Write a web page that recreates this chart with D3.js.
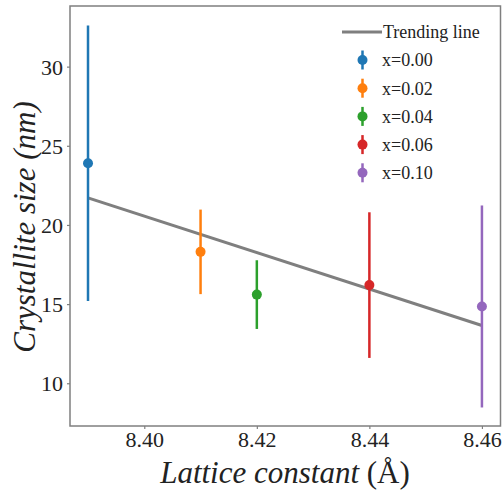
<!DOCTYPE html>
<html><head><meta charset="utf-8">
<script src="https://cdn.jsdelivr.net/npm/d3@7"></script>
<style>body{margin:0;background:#fff}svg{display:block}text{font-family:'Liberation Serif','DejaVu Serif',serif;fill:#222}</style>
</head><body><svg id="c" width="502" height="491"></svg>
<script>
const labels = ["x=0.00","x=0.02","x=0.04","x=0.06","x=0.10"];
const latticeX = [8.39, 8.41, 8.42, 8.44, 8.46];
const sizeY = [23.9, 18.3, 15.6, 16.2, 14.85];
const sizeErr = [8.7, 2.67, 2.17, 4.6, 6.38];
const colors = ["#1f77b4","#ff7f0e","#2ca02c","#d62728","#9467bd"];
const trendX = [8.39, 8.46];
const trendY = [21.71, 13.65];
const xTicks = [8.40, 8.42, 8.44, 8.46];
const yTicks = [10, 15, 20, 25, 30];

const svg = d3.select("#c");
const L=70, R=500.5, T=6, B=426;
const x = d3.scaleLinear().domain([8.3868, 8.4633]).range([L, R]);
const y = d3.scaleLinear().domain([7.30, 33.83]).range([B, T]);

svg.append("path").datum(trendX.map((v,i)=>[v,trendY[i]]))
  .attr("d", d3.line().x(d=>x(d[0])).y(d=>y(d[1])))
  .attr("stroke","#7f7f7f").attr("stroke-width",3).attr("fill","none");

latticeX.forEach((v,i)=>{
  const g = svg.append("g");
  g.append("line").attr("x1",x(v)).attr("x2",x(v))
    .attr("y1",y(sizeY[i]-sizeErr[i])).attr("y2",y(sizeY[i]+sizeErr[i]))
    .attr("stroke",colors[i]).attr("stroke-width",2.5);
  g.append("circle").attr("cx",x(v)).attr("cy",y(sizeY[i])).attr("r",5).attr("fill",colors[i]);
});

const xa = svg.append("g").attr("transform",`translate(0,${B})`)
  .call(d3.axisBottom(x).tickValues(xTicks).tickFormat(d3.format(".2f")).tickSize(3).tickSizeOuter(0));
const ya = svg.append("g").attr("transform",`translate(${L},0)`)
  .call(d3.axisLeft(y).tickValues(yTicks).tickFormat(d3.format("d")).tickSize(3).tickSizeOuter(0));
[xa,ya].forEach(a=>{
  a.select(".domain").remove();
  a.selectAll(".tick line").attr("stroke","#7f7f7f").attr("stroke-width",1.2);
  a.selectAll(".tick text").attr("font-size",22).attr("font-family",null).attr("fill","#222");
});
xa.selectAll(".tick text").attr("dy","0").attr("y",16).attr("dominant-baseline","middle");
ya.selectAll(".tick text").attr("x",-7).attr("dy","0.35em");

svg.append("rect").attr("x",L).attr("y",T).attr("width",R-L).attr("height",B-T)
  .attr("fill","none").attr("stroke","#7f7f7f").attr("stroke-width",1.5);

const xl = svg.append("text").attr("x",285).attr("y",483).attr("text-anchor","middle").attr("font-size",31);
xl.append("tspan").attr("font-style","italic").text("Lattice constant ");
xl.append("tspan").text("(Å)");
const yl = svg.append("text").attr("transform","translate(35,227) rotate(-90)").attr("text-anchor","middle").attr("font-size",31);
yl.append("tspan").attr("font-style","italic").text("Crystallite size ");
yl.append("tspan").attr("font-style","italic").text("(nm)");

const lg = svg.append("g");
lg.append("line").attr("x1",342).attr("x2",382).attr("y1",32).attr("y2",32).attr("stroke","#7f7f7f").attr("stroke-width",3);
lg.append("text").attr("x",383).attr("y",32).attr("dy","0.35em").attr("font-size",18).text("Trending line");
labels.forEach((t,i)=>{
  const cy = 60 + i*28.2;
  lg.append("line").attr("x1",362.5).attr("x2",362.5).attr("y1",cy-9.5).attr("y2",cy+9.5).attr("stroke",colors[i]).attr("stroke-width",2.5);
  lg.append("circle").attr("cx",362.5).attr("cy",cy).attr("r",5).attr("fill",colors[i]);
  lg.append("text").attr("x",382).attr("y",cy).attr("dy","0.35em").attr("font-size",18).text(t);
});
</script></body></html>
